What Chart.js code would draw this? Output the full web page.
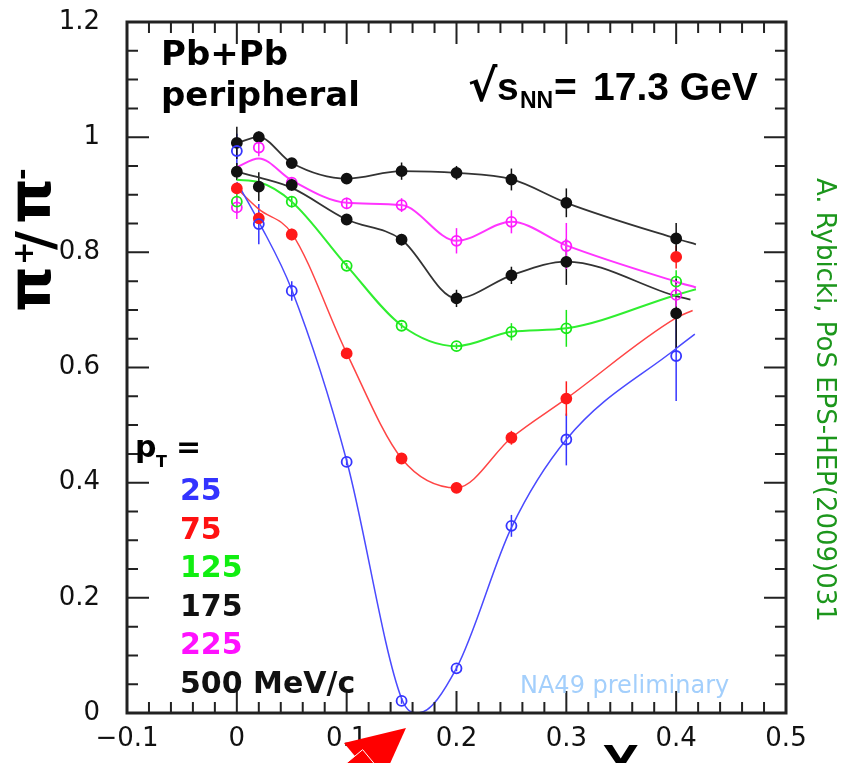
<!DOCTYPE html>
<html>
<head>
<meta charset="utf-8">
<title>pi+/pi- Pb+Pb peripheral</title>
<script src="https://cdn.jsdelivr.net/npm/chart.js@4/dist/chart.umd.min.js"></script>
<style>
  html, body { margin: 0; padding: 0; background: #fff; }
  #box { width: 846px; height: 763px; position: relative; }
</style>
</head>
<body>
<div id="box"><canvas id="grafico" width="846" height="763"></canvas></div>
<script>
// x_F dei punti misurati
const xPunti = [0, 0.02, 0.05, 0.1, 0.15, 0.2, 0.25, 0.3, 0.4];

// rapporto pi+/pi- per ogni intervallo di pT (null = punto assente)
const punti25  = [0.976, 0.849, 0.733, 0.436, 0.021, 0.0775, 0.325, 0.475, 0.620];
const punti75  = [0.911, 0.859, 0.831, 0.6245, 0.442, 0.391, 0.478, 0.546, 0.792];
const punti125 = [0.888, null, 0.888, 0.7766, 0.6725, 0.637, 0.662, 0.668, 0.749];
const punti175 = [0.940, 0.914, 0.917, 0.857, 0.822, 0.720, 0.760, 0.7835, 0.694];
const punti225 = [0.878, 0.982, 0.921, 0.885, 0.882, 0.820, 0.853, 0.811, 0.726];
const punti500 = [0.990, 1.000, 0.955, 0.928, 0.941, 0.938, 0.9265, 0.886, 0.824];

// errori (mezza barra)
const errori25  = [0.03, 0.035, 0.017, 0.006, 0.005, 0.005, 0.019, 0.045, 0.078];
const errori75  = [0.01, 0.01, 0.01, 0.005, 0.005, 0.005, 0.012, 0.03, 0.02];
const errori125 = [0.02, 0, 0.01, 0.005, 0.005, 0.005, 0.015, 0.032, 0.02];
const errori175 = [0.015, 0.025, 0.01, 0.008, 0.01, 0.015, 0.015, 0.04, 0.06];
const errori225 = [0.02, 0.015, 0.01, 0.01, 0.012, 0.022, 0.02, 0.04, 0.02];
const errori500 = [0.028, 0.01, 0.008, 0.008, 0.015, 0.012, 0.019, 0.025, 0.027];

// curve di interpolazione (nodi)
const curvaX25  = [0, 0.02, 0.05, 0.1, 0.15, 0.165, 0.2, 0.25, 0.3, 0.4, 0.417];
const curvaY25  = [0.922, 0.853, 0.735, 0.438, 0.025, 0.0, 0.078, 0.322, 0.475, 0.633, 0.658];
const curvaX75  = [0, 0.02, 0.05, 0.1, 0.15, 0.2, 0.25, 0.3, 0.4, 0.415];
const curvaY75  = [0.911, 0.875, 0.833, 0.625, 0.442, 0.391, 0.478, 0.546, 0.686, 0.699];
const curvaX125 = [0, 0.02, 0.05, 0.1, 0.15, 0.2, 0.25, 0.3, 0.4, 0.418];
const curvaY125 = [0.926, 0.922, 0.888, 0.777, 0.673, 0.637, 0.662, 0.668, 0.726, 0.736];
const curvaX175 = [0, 0.02, 0.05, 0.1, 0.15, 0.2, 0.25, 0.3, 0.4, 0.413];
const curvaY175 = [0.940, 0.930, 0.912, 0.857, 0.822, 0.720, 0.760, 0.784, 0.724, 0.718];
const curvaX225 = [0, 0.02, 0.05, 0.1, 0.15, 0.2, 0.25, 0.3, 0.4, 0.418];
const curvaY225 = [0.948, 0.963, 0.925, 0.886, 0.882, 0.820, 0.853, 0.812, 0.749, 0.739];
const curvaX500 = [0, 0.02, 0.05, 0.1, 0.15, 0.2, 0.25, 0.3, 0.4, 0.418];
const curvaY500 = [0.990, 1.000, 0.955, 0.928, 0.941, 0.938, 0.927, 0.886, 0.824, 0.814];

// etichette pT della legenda
const etichettePt = ['25', '75', '125', '175', '225', '500 MeV/c'];

const serie = [
  { colore: '#3535ff', linea: '#4a4aff', spessore: 1.5, pieno: false, punti: punti25,  errori: errori25,  cx: curvaX25,  cy: curvaY25 },
  { colore: '#ff1a1a', linea: '#ff4545', spessore: 1.5, pieno: true,  punti: punti75,  errori: errori75,  cx: curvaX75,  cy: curvaY75 },
  { colore: '#18e818', linea: '#30ee30', spessore: 2,   pieno: false, punti: punti125, errori: errori125, cx: curvaX125, cy: curvaY125 },
  { colore: '#111111', linea: '#333333', spessore: 1.8, pieno: true,  punti: punti175, errori: errori175, cx: curvaX175, cy: curvaY175 },
  { colore: '#ff1aff', linea: '#ff35ff', spessore: 2,   pieno: false, punti: punti225, errori: errori225, cx: curvaX225, cy: curvaY225 },
  { colore: '#111111', linea: '#333333', spessore: 1.8, pieno: true,  punti: punti500, errori: errori500, cx: curvaX500, cy: curvaY500 }
];
const coloriLegenda = ['#3333ff', '#ff1111', '#11ee11', '#111111', '#ff11ff', '#111111'];

const datasets = [];
serie.forEach(s => {
  datasets.push({
    data: s.cx.map((x, i) => ({ x: x, y: s.cy[i] })),
    borderColor: s.linea,
    borderWidth: s.spessore,
    pointRadius: 0,
    cubicInterpolationMode: 'monotone',
    fill: false,
    order: 2
  });
  datasets.push({
    data: xPunti.map((x, i) => ({ x: x, y: s.punti[i], e: s.errori[i] })).filter(p => p.y !== null),
    showLine: false,
    pointRadius: 5,
    pointBorderWidth: 1.8,
    pointBorderColor: s.colore,
    pointBackgroundColor: s.pieno ? s.colore : 'rgba(0,0,0,0)',
    barreErrore: true,
    order: 1
  });
});

// barre d'errore verticali
const barreErrore = {
  id: 'barreErrore',
  beforeDatasetsDraw(chart) {
    const ctx = chart.ctx, y = chart.scales.y, a = chart.chartArea;
    ctx.save();
    ctx.beginPath();
    ctx.rect(a.left, a.top, a.right - a.left, a.bottom - a.top);
    ctx.clip();
    chart.data.datasets.forEach((ds, i) => {
      if (!ds.barreErrore) return;
      const meta = chart.getDatasetMeta(i);
      ctx.strokeStyle = ds.pointBorderColor;
      ctx.lineWidth = 1.5;
      meta.data.forEach((el, j) => {
        const p = ds.data[j];
        if (!p.e) return;
        ctx.beginPath();
        ctx.moveTo(el.x, y.getPixelForValue(p.y - p.e));
        ctx.lineTo(el.x, y.getPixelForValue(p.y + p.e));
        ctx.stroke();
      });
    });
    ctx.restore();
  }
};

// cornice e tacche verso l'interno su tutti e quattro i lati
const cornice = {
  id: 'cornice',
  afterDatasetsDraw(chart) {
    const ctx = chart.ctx, a = chart.chartArea, sx = chart.scales.x, sy = chart.scales.y;
    ctx.save();
    ctx.strokeStyle = '#222';
    ctx.lineWidth = 2;
    for (let i = -5; i <= 25; i++) {
      const px = sx.getPixelForValue(i * 0.02);
      const l = (i % 5 === 0) ? 22 : 11;
      ctx.beginPath();
      ctx.moveTo(px, a.bottom); ctx.lineTo(px, a.bottom - l);
      ctx.moveTo(px, a.top); ctx.lineTo(px, a.top + l);
      ctx.stroke();
    }
    for (let i = 0; i <= 24; i++) {
      const py = sy.getPixelForValue(i * 0.05);
      const l = (i % 4 === 0) ? 22 : 11;
      ctx.beginPath();
      ctx.moveTo(a.left, py); ctx.lineTo(a.left + l, py);
      ctx.moveTo(a.right, py); ctx.lineTo(a.right - l, py);
      ctx.stroke();
    }
    ctx.lineWidth = 3;
    ctx.strokeRect(a.left, a.top, a.right - a.left, a.bottom - a.top);
    ctx.restore();
  }
};

// scritte, titoli degli assi e freccia
const scritte = {
  id: 'scritte',
  afterDraw(chart) {
    const ctx = chart.ctx, a = chart.chartArea, sx = chart.scales.x;
    ctx.save();
    ctx.textAlign = 'left';
    ctx.textBaseline = 'alphabetic';

    ctx.fillStyle = '#000';
    ctx.font = 'bold 34px "DejaVu Sans"';
    ctx.fillText('Pb+Pb', 161, 65);
    ctx.fillText('peripheral', 161, 106);

    // sqrt(s_NN)
    ctx.font = 'bold 44px "DejaVu Sans"';
    ctx.fillText('\u221A', 468, 101);
    ctx.font = 'bold 39px "Liberation Sans"';
    ctx.fillText('s', 497, 100);
    ctx.font = 'bold 23px "Liberation Sans"';
    ctx.fillText('NN', 520, 108);
    ctx.font = 'bold 39px "Liberation Sans"';
    ctx.fillText('=', 554, 100);
    ctx.fillText('17.3 GeV', 593, 100);

    // legenda pT
    ctx.font = 'bold 30px "DejaVu Sans"';
    ctx.fillText('p', 135, 457);
    ctx.font = 'bold 16px "DejaVu Sans"';
    ctx.fillText('T', 156, 467);
    ctx.font = 'bold 30px "DejaVu Sans"';
    ctx.fillText('=', 176, 457);
    etichettePt.forEach((t, i) => {
      ctx.fillStyle = coloriLegenda[i];
      ctx.fillText(t, 180, 500 + i * 38.6);
    });

    ctx.fillStyle = '#a3cffc';
    ctx.font = '24px "DejaVu Sans"';
    ctx.fillText('NA49 preliminary', 520, 693);

    // titolo asse y: pi+/pi-
    ctx.save();
    ctx.translate(50, 310);
    ctx.rotate(-Math.PI / 2);
    ctx.fillStyle = '#000';
    ctx.font = 'bold 58px "DejaVu Sans"';
    ctx.fillText('\u03C0', -2, 0);
    ctx.font = 'bold 28px "DejaVu Sans"';
    ctx.fillText('+', 45, -17);
    ctx.font = 'bold 52px "DejaVu Sans"';
    ctx.fillText('/', 60, 3);
    ctx.font = 'bold 58px "DejaVu Sans"';
    ctx.fillText('\u03C0', 86, 0);
    ctx.font = 'bold 28px "DejaVu Sans"';
    ctx.fillText('-', 130, -19);
    ctx.restore();

    // titolo asse x (tagliato dal bordo)
    ctx.fillStyle = '#000';
    ctx.font = 'bold 56px "Liberation Sans"';
    ctx.fillText('X', 602, 783);

    // riferimento verticale
    ctx.save();
    ctx.translate(817, 178);
    ctx.rotate(Math.PI / 2);
    ctx.fillStyle = '#1c961c';
    ctx.font = '26px "DejaVu Sans"';
    ctx.fillText('A. Rybicki, PoS EPS-HEP(2009)031', 0, 0);
    ctx.restore();

    // freccia rossa sotto l'asse
    const tx = sx.getPixelForValue(0.154), ty = a.bottom + 15;
    const b1 = [tx - 62, ty + 15], b2 = [tx - 26, ty + 58];
    const mx = (b1[0] + b2[0]) / 2, my = (b1[1] + b2[1]) / 2;
    const dx = mx - tx, dy = my - ty, dl = Math.hypot(dx, dy);
    const ux = dx / dl, uy = dy / dl, w = 11;
    ctx.fillStyle = '#ff0000';
    ctx.strokeStyle = '#fff';
    ctx.lineWidth = 1;
    ctx.beginPath();
    ctx.moveTo(tx, ty); ctx.lineTo(b1[0], b1[1]); ctx.lineTo(b2[0], b2[1]); ctx.closePath();
    ctx.fill();
    ctx.beginPath();
    ctx.moveTo(mx - uy * w - ux * 10, my + ux * w - uy * 10);
    ctx.lineTo(mx - uy * w + ux * 60, my + ux * w + uy * 60);
    ctx.lineTo(mx + uy * w + ux * 60, my - ux * w + uy * 60);
    ctx.lineTo(mx + uy * w - ux * 10, my - ux * w - uy * 10);
    ctx.closePath();
    ctx.fill();
    ctx.stroke();
    ctx.restore();
  }
};

function formatta(v) {
  const r = Math.round(v * 10) / 10;
  return r < 0 ? '\u2212' + Math.abs(r) : String(r);
}

const ctx = document.getElementById('grafico').getContext('2d');
const grafico = new Chart(ctx, {
  type: 'line',
  data: { datasets: datasets },
  options: {
    responsive: false,
    devicePixelRatio: 1,
    animation: false,
    layout: { padding: { top: 22, right: 60, left: 0, bottom: 0 } },
    plugins: { legend: { display: false }, tooltip: { enabled: false } },
    scales: {
      x: {
        type: 'linear',
        min: -0.1,
        max: 0.5,
        ticks: {
          stepSize: 0.1,
          maxRotation: 0,
          padding: 11,
          color: '#111',
          font: { family: 'DejaVu Sans', size: 26 },
          callback: formatta
        },
        grid: { display: false, drawTicks: false },
        border: { display: false },
        afterFit(s) { s.height = 50; s.paddingLeft = 0; s.paddingRight = 0; }
      },
      y: {
        min: 0,
        max: 1.2,
        ticks: {
          stepSize: 0.2,
          padding: 27,
          color: '#111',
          font: { family: 'DejaVu Sans', size: 26 },
          callback: formatta
        },
        grid: { display: false, drawTicks: false },
        border: { display: false },
        afterFit(s) { s.width = 127; s.paddingTop = 0; s.paddingBottom = 0; }
      }
    }
  },
  plugins: [barreErrore, cornice, scritte]
});
</script>
</body>
</html>
